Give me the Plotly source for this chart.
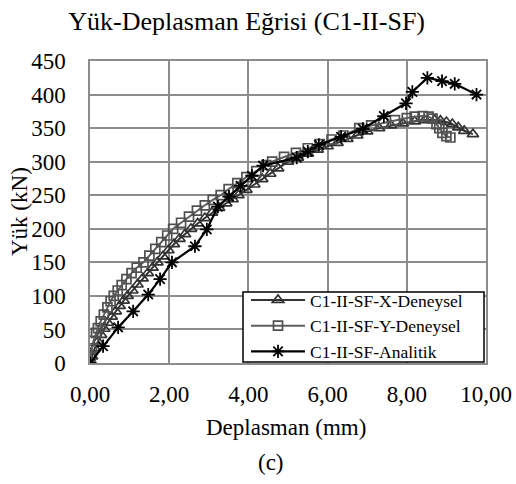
import plotly.graph_objects as go

# Data
x_exp_x = [0, 0.05, 0.12, 0.2, 0.28, 0.36, 0.45, 0.55, 0.65, 0.75, 0.85, 0.95, 1.07, 1.2, 1.33,
           1.46, 1.58, 1.7, 1.84, 1.98, 2.12, 2.26, 2.4, 2.55, 2.72, 2.9, 3.08, 3.26, 3.44, 3.6,
           3.75, 3.95, 4.15, 4.35, 4.55, 4.75, 5.0, 5.25, 5.5, 5.75, 6.0, 6.25, 6.5, 6.75, 7.0,
           7.3, 7.6, 7.9, 8.2, 8.45, 8.7, 8.85, 9.0, 9.15, 9.3, 9.45, 9.67]
y_exp_x = [0, 10, 22, 32, 42, 51, 60, 69, 77, 85, 93, 100, 108, 117, 126,
           134, 142, 150, 159, 168, 177, 185, 192, 200, 208, 216, 224, 231, 238, 244,
           250, 258, 266, 274, 282, 290, 300, 306, 312, 318, 323, 328, 334, 339, 345,
           350, 354, 357, 360, 362, 362, 361, 359, 356, 351, 346, 341]

x_exp_y = [0, 0.02, 0.05, 0.09, 0.15, 0.2, 0.27, 0.35, 0.44, 0.52, 0.6, 0.7, 0.8, 0.92, 1.05,
           1.18, 1.35, 1.5, 1.65, 1.8, 1.95, 2.1, 2.3, 2.5, 2.7, 2.9, 3.1, 3.3, 3.5, 3.72,
           3.95, 4.2, 4.45, 4.6, 4.9, 5.2, 5.5, 5.8, 6.1, 6.4, 6.8, 7.1, 7.4, 7.7, 8.0,
           8.2, 8.4, 8.55, 8.65, 8.75, 8.82, 8.9, 9.0, 9.1]
y_exp_y = [0, 10, 22, 33, 45, 52, 62, 72, 83, 92, 100, 108, 116, 125, 134,
           142, 150, 160, 170, 180, 190, 200, 209, 218, 227, 235, 243, 250, 259, 268,
           277, 286, 295, 300, 307, 313, 320, 326, 333, 339, 350, 354, 358, 362, 365,
           367, 368, 367, 364, 356, 350, 343, 338, 336]

x_anal = [0, 0.33, 0.71, 1.09, 1.47, 1.77, 2.07, 2.65, 2.95, 3.23, 3.51, 3.80, 4.09, 4.37,
          5.22, 5.50, 5.78, 6.34, 6.89, 7.42, 7.98, 8.14, 8.52, 8.89, 9.21, 9.76]
y_anal = [0, 25, 53, 77, 102, 125, 150, 174, 199, 233, 248, 264, 279, 294,
          306, 315, 325, 337, 349, 368, 387, 404, 425, 420, 416, 400]

names = ["C1-II-SF-X-Deneysel", "C1-II-SF-Y-Deneysel", "C1-II-SF-Analitik"]
x_ticks = [0, 2, 4, 6, 8, 10]
y_ticks = [0, 50, 100, 150, 200, 250, 300, 350, 400, 450]

FONT = "Liberation Serif, Times New Roman, serif"
GRID = "#8c8c8c"
TICK = 23

# plot area in pixels (for converting layout positions to paper coords)
PL, PR, PT, PB = 90, 486, 61, 363
def px_x(p):
    return (p - PL) / (PR - PL)
def px_y(p):
    return (PB - p) / (PB - PT)

fig = go.Figure()
fig.add_trace(go.Scatter(
    x=x_exp_x, y=y_exp_x, name=names[0], mode="lines+markers",
    line=dict(color="#333333", width=2),
    marker=dict(symbol="triangle-up-open", size=10, color="#333333", line=dict(width=1.7, color="#333333")),
))
fig.add_trace(go.Scatter(
    x=x_exp_y, y=y_exp_y, name=names[1], mode="lines+markers",
    line=dict(color="#5f5f5f", width=2),
    marker=dict(symbol="square-open", size=9, color="#505050", line=dict(width=1.7, color="#505050")),
))
fig.add_trace(go.Scatter(
    x=x_anal, y=y_anal, name=names[2], mode="lines+markers",
    line=dict(color="#000000", width=2.2),
    marker=dict(symbol="asterisk-open", size=11, color="#000000", line=dict(width=1.8, color="#000000")),
))

fig.update_layout(
    width=516, height=484,
    margin=dict(l=PL, r=516 - PR, t=PT, b=484 - PB),
    paper_bgcolor="white", plot_bgcolor="white",
    separators=",.",
    font=dict(family=FONT, color="#000000", size=TICK),
    title=dict(text="Yük-Deplasman Eğrisi (C1-II-SF)", x=0.478, xanchor="center",
               y=1 - 21 / 484, yanchor="middle", font=dict(family=FONT, size=26, color="#000000")),
    showlegend=True,
    legend=dict(x=px_x(246), y=px_y(282), xanchor="left", yanchor="top",
                bgcolor="rgba(0,0,0,0)", borderwidth=0,
                font=dict(family=FONT, size=17.5, color="#000000"),
                itemwidth=54, tracegroupgap=0),
    shapes=[dict(type="rect", xref="paper", yref="paper",
                 x0=px_x(243), x1=px_x(484), y0=px_y(362), y1=px_y(292),
                 line=dict(color="#000000", width=1.5), fillcolor="white", layer="above")],
)
fig.update_xaxes(range=[0, 10], tickvals=x_ticks, tickformat=".2f", automargin=False,
                 showgrid=True, gridcolor=GRID, gridwidth=1.5,
                 showline=True, linecolor=GRID, linewidth=1.5, mirror=True,
                 ticks="", ticklabelstandoff=10, zeroline=False,
                 tickfont=dict(family=FONT, size=TICK, color="#000000"))
fig.update_yaxes(range=[0, 450], tickvals=y_ticks, automargin=False,
                 showgrid=True, gridcolor=GRID, gridwidth=1.5,
                 showline=True, linecolor=GRID, linewidth=1.5, mirror=True,
                 ticks="", ticklabelstandoff=18, zeroline=False,
                 tickfont=dict(family=FONT, size=TICK, color="#000000"))

fig.add_annotation(text="Deplasman (mm)", xref="paper", yref="paper",
                   x=0.495, y=px_y(427), xanchor="center", yanchor="middle",
                   showarrow=False, font=dict(family=FONT, size=TICK, color="#000000"))
fig.add_annotation(text="(c)", xref="paper", yref="paper",
                   x=px_x(271), y=px_y(462), xanchor="center", yanchor="middle",
                   showarrow=False, font=dict(family=FONT, size=TICK, color="#000000"))
fig.add_annotation(text="Yük (kN)", xref="paper", yref="paper",
                   x=px_x(19), y=0.5, xanchor="center", yanchor="middle", textangle=-90,
                   showarrow=False, font=dict(family=FONT, size=TICK, color="#000000"))

fig.write_html("out.html", config={"displayModeBar": False},
               post_script="document.body.style.margin='0';document.body.style.overflow='hidden';")
